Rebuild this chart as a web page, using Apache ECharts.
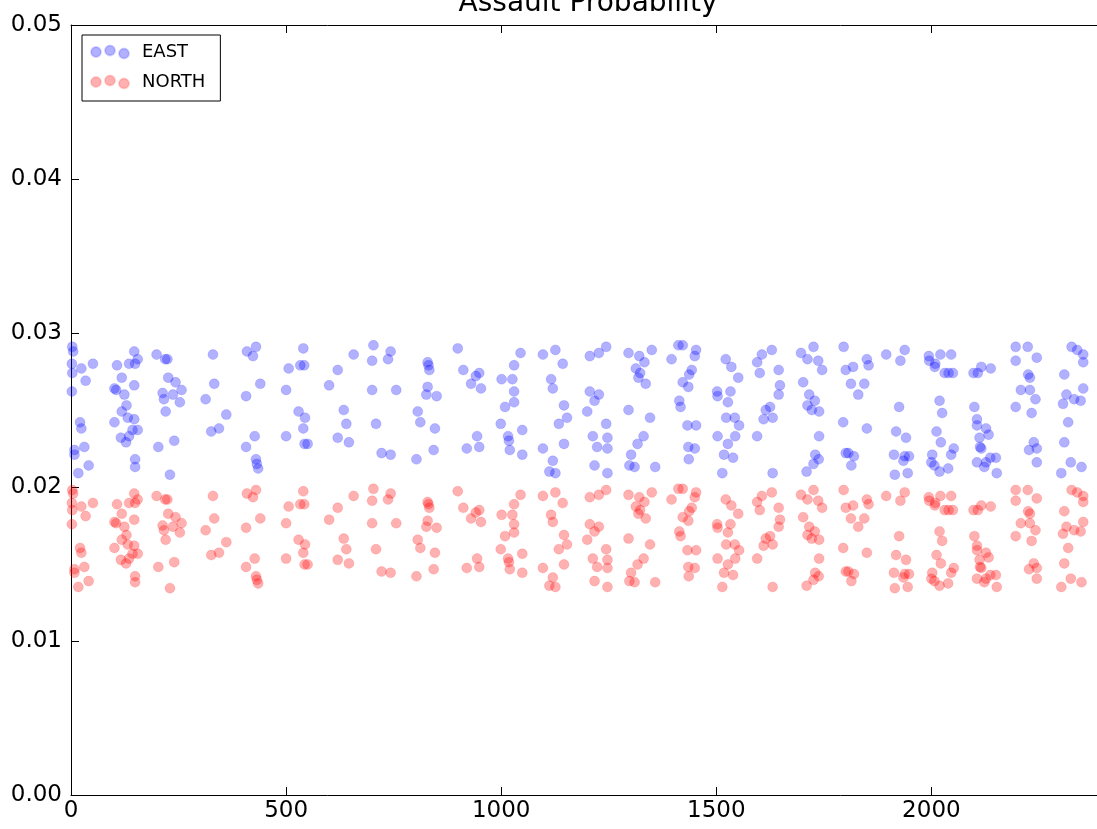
<!DOCTYPE html>
<html>
<head>
<meta charset="utf-8">
<script src="https://cdn.jsdelivr.net/npm/echarts@6/dist/echarts.min.js"></script>
<style>
  html, body { margin: 0; padding: 0; background: #fff; }
  #chart { width: 1097px; height: 829px; }
</style>
</head>
<body>
<div id="chart"></div>
<script>
// Simulation step for each sample
const steps = [
  3,5,2,3,2,24,51,34,21,24,8,8,31,41,17,147,155,149,135,107,118,101,105,124,147,129,118,132,147,101,155,143,116,135,128,149,149,199,219,224,226,243,257,213,216,237,253,220,240,203,230,330,333,313,361,344,326,409,430,423,440,407,427,407,430,432,435,
  540,506,533,542,500,529,544,540,500,543,550,620,600,657,634,640,620,646,703,743,737,700,700,756,709,722,743,829,831,833,829,826,850,806,812,846,843,803,899,912,
  930,941,949,953,944,920,949,1045,1030,1001,1026,1030,1030,1009,999,1049,1016,1018,1020,1049,1097,1126,1143,1116,1120,1146,1153,1134,1146,1097,1120,1112,1126,1206,1227,1244,1206,1227,1217,1200,1244,1213,1247,1223,1247,1217,1247,1296,1321,1350,1333,1313,1323,1319,1336,1296,1346,1331,1317,1302,1298,1310,1358,
  1396,1412,1422,1453,1450,1443,1437,1422,1435,1414,1417,1433,1453,1435,1450,1436,1522,1535,1551,1502,1503,1533,1527,1523,1543,1553,1503,1544,1527,1518,1539,1514,1606,1595,1629,1645,1601,1648,1645,1625,1615,1631,1610,1595,1631,1697,1726,1712,1737,1746,1702,1716,1729,1712,1722,1739,1739,1730,1738,1726,1710,1796,1801,1818,1813,1830,1795,1801,1807,1820,1814,
  1844,1850,1854,1850,1895,1938,1928,1925,1918,1941,1913,1938,1948,1935,1915,1945,1994,1995,2009,2008,2021,2046,2031,2040,2050,2019,2025,2012,2022,2052,2046,2002,2000,2007,2039,2019,2098,2108,2116,2138,2100,2106,2106,2127,2133,2112,2113,2116,2106,2127,2137,2150,2123,2152,2196,2224,2196,2245,2225,2229,2208,2229,2242,2196,2233,2238,2227,2245,2245,2326,2339,2353,2353,2309,2353,2314,2332,2347,2306,2318,2309,2324,2349,2302
];

// Assault probability, EAST front
const east = [
  .0291,.0288,.0280,.0274,.0262,.0277,.0280,.0269,.0242,.0238,.0224,.0221,.0226,.0214,.0209,.0288,.0283,.0280,.0280,.0279,.0271,.0264,.0263,.0260,.0266,.0253,.0249,.0245,.0244,.0242,.0237,.0237,.0232,.0233,.0229,.0218,.0213,.0286,.0283,.0283,.0271,.0268,.0263,.0261,.0257,.0260,.0255,.0249,.0230,.0226,.0208,.0286,.0267,.0257,.0247,.0238,.0236,.0288,.0291,.0285,.0267,.0259,.0233,.0226,.0218,.0215,.0212,
  .0290,.0277,.0279,.0279,.0263,.0249,.0245,.0238,.0233,.0228,.0228,.0276,.0266,.0286,.0250,.0241,.0232,.0229,.0292,.0288,.0283,.0282,.0263,.0263,.0241,.0222,.0221,.0281,.0279,.0276,.0265,.0260,.0259,.0249,.0242,.0238,.0224,.0218,.0290,.0276,
  .0267,.0272,.0274,.0264,.0233,.0225,.0226,.0287,.0279,.0270,.0270,.0262,.0255,.0252,.0241,.0237,.0233,.0230,.0224,.0221,.0286,.0289,.0280,.0270,.0264,.0253,.0245,.0241,.0228,.0225,.0217,.0210,.0209,.0285,.0287,.0291,.0262,.0260,.0256,.0249,.0241,.0233,.0232,.0226,.0225,.0214,.0209,.0287,.0285,.0289,.0281,.0277,.0274,.0271,.0267,.0250,.0245,.0233,.0228,.0221,.0214,.0213,.0213,
  .0283,.0292,.0292,.0289,.0285,.0276,.0273,.0268,.0265,.0256,.0252,.0240,.0240,.0226,.0225,.0218,.0283,.0278,.0271,.0262,.0259,.0262,.0255,.0245,.0245,.0240,.0233,.0233,.0228,.0221,.0219,.0209,.0286,.0281,.0289,.0276,.0274,.0266,.0260,.0252,.0250,.0245,.0244,.0233,.0209,.0287,.0291,.0283,.0282,.0276,.0268,.0260,.0256,.0253,.0250,.0249,.0233,.0221,.0218,.0215,.0210,.0291,.0276,.0278,.0267,.0260,.0242,.0222,.0222,.0220,.0214,
  .0267,.0283,.0279,.0238,.0286,.0289,.0282,.0252,.0236,.0232,.0221,.0220,.0220,.0217,.0208,.0209,.0285,.0282,.0280,.0278,.0286,.0286,.0274,.0274,.0274,.0256,.0248,.0236,.0229,.0225,.0221,.0221,.0216,.0214,.0212,.0210,.0274,.0274,.0278,.0277,.0252,.0244,.0240,.0238,.0234,.0232,.0226,.0225,.0216,.0216,.0219,.0219,.0213,.0209,.0291,.0291,.0282,.0284,.0273,.0271,.0263,.0263,.0257,.0252,.0248,.0229,.0224,.0225,.0216,.0291,.0289,.0286,.0281,.0273,.0264,.0260,.0257,.0256,.0254,.0242,.0229,.0216,.0213,.0209
];

// Assault probability, NORTH front
const north = [
  .01980,.01957,.01896,.01850,.01758,.01873,.01896,.01811,.01604,.01573,.01466,.01443,.01481,.01389,.01351,.01957,.01919,.01896,.01896,.01888,.01826,.01773,.01765,.01742,.01788,.01688,.01658,.01627,.01619,.01604,.01566,.01566,.01527,.01535,.01504,.01420,.01382,.01942,.01919,.01919,.01826,.01804,.01765,.01750,.01719,.01742,.01704,.01658,.01512,.01481,.01343,.01942,.01796,.01719,.01642,.01573,.01558,.01957,.01980,.01934,.01796,.01735,.01535,.01481,.01420,.01397,.01374,
  .01972,.01873,.01888,.01888,.01765,.01658,.01627,.01573,.01535,.01497,.01497,.01865,.01788,.01942,.01665,.01596,.01527,.01504,.01988,.01957,.01919,.01911,.01765,.01765,.01596,.01451,.01443,.01903,.01888,.01865,.01781,.01742,.01735,.01658,.01604,.01573,.01466,.01420,.01972,.01865,
  .01796,.01834,.01850,.01773,.01535,.01474,.01481,.01949,.01888,.01819,.01819,.01758,.01704,.01681,.01596,.01566,.01535,.01512,.01466,.01443,.01942,.01965,.01896,.01819,.01773,.01688,.01627,.01596,.01497,.01474,.01412,.01359,.01351,.01934,.01949,.01980,.01758,.01742,.01711,.01658,.01596,.01535,.01527,.01481,.01474,.01389,.01351,.01949,.01934,.01965,.01903,.01873,.01850,.01826,.01796,.01665,.01627,.01535,.01497,.01443,.01389,.01382,.01382,
  .01919,.01988,.01988,.01965,.01934,.01865,.01842,.01804,.01781,.01711,.01681,.01589,.01589,.01481,.01474,.01420,.01919,.01880,.01826,.01758,.01735,.01758,.01704,.01627,.01627,.01589,.01535,.01535,.01497,.01443,.01428,.01351,.01942,.01903,.01965,.01865,.01850,.01788,.01742,.01681,.01665,.01627,.01619,.01535,.01351,.01949,.01980,.01919,.01911,.01865,.01804,.01742,.01711,.01688,.01665,.01658,.01535,.01443,.01420,.01397,.01359,.01980,.01865,.01880,.01796,.01742,.01604,.01451,.01451,.01435,.01389,
  .01796,.01919,.01888,.01573,.01942,.01965,.01911,.01681,.01558,.01527,.01443,.01435,.01435,.01412,.01343,.01351,.01934,.01911,.01896,.01880,.01942,.01942,.01850,.01850,.01850,.01711,.01650,.01558,.01504,.01474,.01443,.01443,.01405,.01389,.01374,.01359,.01850,.01850,.01880,.01873,.01681,.01619,.01589,.01573,.01543,.01527,.01481,.01474,.01405,.01405,.01428,.01428,.01382,.01351,.01980,.01980,.01911,.01926,.01842,.01826,.01765,.01765,.01719,.01681,.01650,.01504,.01466,.01474,.01405,.01980,.01965,.01942,.01903,.01842,.01773,.01742,.01719,.01711,.01696,.01604,.01504,.01405,.01382,.01351
];

const seriesNames = ['EAST', 'NORTH'];
const yTicks = [0, 0.01, 0.02, 0.03, 0.04, 0.05];

const FONT = 'DejaVu Sans';
// three staggered dots, as a scatter legend key
const dotsIcon = 'path://M0,6.5a5,5 0 1,0 10,0a5,5 0 1,0 -10,0zM14,5a5,5 0 1,0 10,0a5,5 0 1,0 -10,0zM28,8a5,5 0 1,0 10,0a5,5 0 1,0 -10,0z';

const pairs = ys => steps.map((s, i) => [s, ys[i]]);

const chart = echarts.init(document.getElementById('chart'), null, { renderer: 'canvas' });

const tickStyle = { show: true, inside: true, length: 8, lineStyle: { color: '#000', width: 1 } };

chart.setOption({
  animation: false,
  backgroundColor: '#fff',
  title: {
    text: 'Assault Probability',
    left: 588,
    top: -10,
    padding: 0,
    textAlign: 'center',
    textStyle: { fontFamily: FONT, fontSize: 28, fontWeight: 'normal', color: '#000' }
  },
  legend: {
    data: seriesNames,
    orient: 'vertical',
    left: 82,
    top: 35,
    padding: [8, 15, 10, 8],
    itemGap: 12,
    itemWidth: 38,
    itemHeight: 13,
    icon: dotsIcon,
    borderColor: '#000',
    borderWidth: 1,
    borderRadius: 0,
    textStyle: { fontFamily: FONT, fontSize: 18, color: '#000', padding: [0, 0, 0, 8] }
  },
  grid: { left: 71, top: 25, width: 1031, height: 770, containLabel: false },
  xAxis: [
    {
      type: 'value', min: 0, max: 2385, interval: 500,
      axisLine: { show: true, onZero: false, lineStyle: { color: '#000', width: 1 } },
      axisTick: tickStyle,
      axisLabel: { fontFamily: FONT, fontSize: 23, color: '#000', margin: 5, showMaxLabel: false, formatter: v => String(v) },
      splitLine: { show: false }
    },
    {
      type: 'value', position: 'top', min: 0, max: 2385, interval: 500,
      axisLine: { show: true, onZero: false, lineStyle: { color: '#000', width: 1 } },
      axisTick: tickStyle,
      axisLabel: { show: false },
      splitLine: { show: false }
    }
  ],
  yAxis: {
    type: 'value', min: yTicks[0], max: yTicks[yTicks.length - 1], interval: 0.01,
    axisLine: { show: true, onZero: false, lineStyle: { color: '#000', width: 1 } },
    axisTick: tickStyle,
    axisLabel: { fontFamily: FONT, fontSize: 23, color: '#000', margin: 9, formatter: v => v.toFixed(2) },
    splitLine: { show: false }
  },
  series: [
    {
      name: seriesNames[0], type: 'scatter', symbol: 'circle', symbolSize: 10, clip: true,
      itemStyle: { color: 'rgba(0,0,255,0.38)', borderColor: 'rgba(0,0,255,0.2)', borderWidth: 0.8 },
      data: pairs(east)
    },
    {
      name: seriesNames[1], type: 'scatter', symbol: 'circle', symbolSize: 10, clip: true,
      itemStyle: { color: 'rgba(255,0,0,0.38)', borderColor: 'rgba(255,0,0,0.2)', borderWidth: 0.8 },
      data: pairs(north)
    }
  ]
});
</script>
</body>
</html>
